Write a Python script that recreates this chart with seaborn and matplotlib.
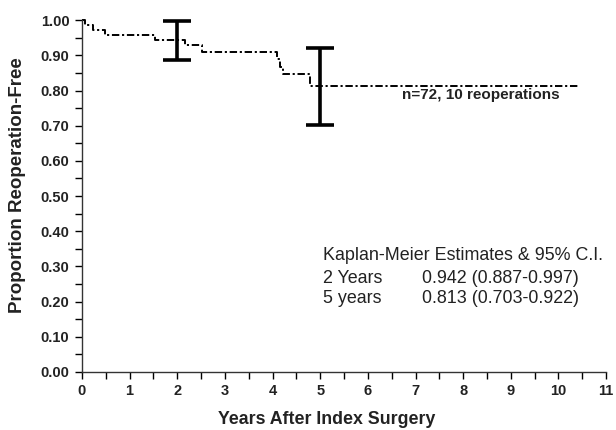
import matplotlib
matplotlib.use("Agg")
import matplotlib.pyplot as plt
import seaborn as sns
import pandas as pd
import numpy as np
from matplotlib.ticker import MultipleLocator

# Data
times = [0.0, 0.06, 0.24, 0.48, 1.53, 2.16, 2.51, 4.09, 4.15, 4.22, 4.79, 10.45]
surv = [1.0, 0.986, 0.972, 0.958, 0.944, 0.929, 0.910, 0.889, 0.868, 0.846, 0.813, 0.813]
ci_years = [2, 5]
ci_est = [0.942, 0.813]
ci_low = [0.887, 0.703]
ci_high = [0.997, 0.922]
stat_labels = ["2 Years", "5 years"]
stat_values = ["0.942 (0.887-0.997)", "0.813 (0.703-0.922)"]

sns.set_style("ticks")
plt.rcParams['font.family'] = ['Liberation Sans', 'DejaVu Sans']

fig = plt.figure(figsize=(6.16, 4.30), dpi=100)
ax = fig.add_axes([0.133, 0.135, 0.851, 0.818])

df = pd.DataFrame({"t": times, "s": surv})
sns.lineplot(data=df, x="t", y="s", ax=ax, drawstyle="steps-post",
             color="black", linewidth=1.4, estimator=None, sort=False)
ax.lines[-1].set_dashes([3.8, 1.4, 1.1, 1.4])

yerr = [np.array(ci_est) - np.array(ci_low), np.array(ci_high) - np.array(ci_est)]
ax.errorbar(ci_years, ci_est, yerr=yerr, fmt="none", ecolor="black",
            elinewidth=2.6, capsize=10, capthick=2.6)

ax.set_xlim(0, 11)
ax.set_ylim(0, 1.0)
ax.xaxis.set_major_locator(MultipleLocator(1))
ax.xaxis.set_minor_locator(MultipleLocator(0.5))
ax.yaxis.set_major_locator(MultipleLocator(0.1))
ax.yaxis.set_minor_locator(MultipleLocator(0.05))
ax.set_yticklabels([f"{v:.2f}" for v in ax.get_yticks()])
ax.tick_params(axis="both", which="both", direction="out", length=5, width=1,
               colors="black", labelsize=10.5)
ax.tick_params(axis="x", which="major", pad=4)
ax.tick_params(axis="y", which="major", pad=4)
for lab in ax.get_xticklabels() + ax.get_yticklabels():
    lab.set_fontweight("bold")
    lab.set_color("#222222")

sns.despine(ax=ax)
ax.spines["left"].set_linewidth(1)
ax.spines["bottom"].set_linewidth(1)
ax.spines["left"].set_color("#333333")
ax.spines["bottom"].set_color("#333333")
for ln in ax.lines:
    ln.set_clip_on(False)

ax.set_xlabel("Years After Index Surgery", fontsize=12.8, fontweight="bold",
              color="#222222")
ax.set_ylabel("Proportion Reoperation-Free", fontsize=13.5, fontweight="bold",
              color="#222222")
ax.xaxis.set_label_coords(0.466, -0.136)
ax.xaxis.label.set_va("center")
ax.yaxis.set_label_coords(-0.122, 0.53)
ax.yaxis.label.set_va("center")

ax.text(6.72, 0.787, "n=72, 10 reoperations", fontsize=11, fontweight="bold",
        va="center", ha="left", color="#222222")

ax.text(5.06, 0.332, "Kaplan-Meier Estimates & 95% C.I.", fontsize=12.9,
        va="center", ha="left", color="#222222")
for i, (lab, val) in enumerate(zip(stat_labels, stat_values)):
    y = 0.267 - i * 0.057
    ax.text(5.06, y, lab, fontsize=12.9, va="center", ha="left", color="#222222")
    ax.text(7.14, y, val, fontsize=12.9, va="center", ha="left", color="#222222")

fig.savefig("out.png", dpi=100)
